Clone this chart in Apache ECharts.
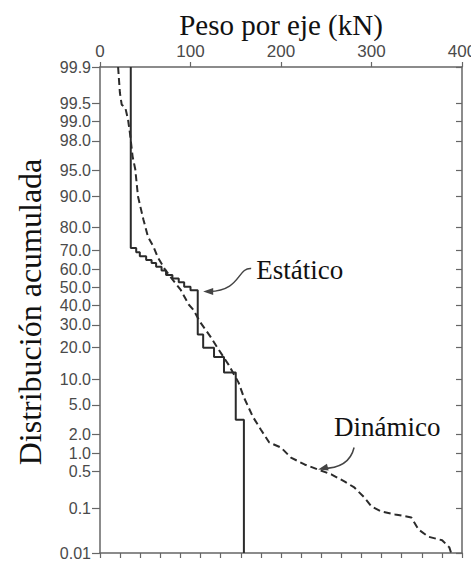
<!DOCTYPE html>
<html>
<head>
<meta charset="utf-8">
<script src="https://cdn.jsdelivr.net/npm/echarts@6/dist/echarts.min.js"></script>
<style>
  html, body { margin: 0; padding: 0; background: #fff; }
  #chart { width: 471px; height: 563px; }
</style>
</head>
<body>
<div id="chart"></div>
<script>
// Distribución acumulada del peso por eje (escala de probabilidad normal)

// etiquetas del eje de probabilidad (%)
const probLabels = ['99.9', '99.5', '99.0', '98.0', '95.0', '90.0', '80.0', '70.0', '60.0', '50.0',
  '40.0', '30.0', '20.0', '10.0', '5.0', '2.0', '1.0', '0.5', '0.1', '0.01'];

// Estático: escalones (kN, %)
const staticLoads = [34, 40, 44, 51, 57, 62, 68, 73, 80, 87, 93, 100, 108, 114, 126, 137, 150, 159, 159];
const staticPct = [99.9, 71, 69, 67, 65, 63.5, 61.5, 59.5, 57, 55, 53, 50.5, 48.5, 25.5, 20, 16.5, 11.7, 3.2, 0.01];

// Dinámico (kN, %)
const dynLoads = [20, 22, 24, 28, 31, 33, 36, 39, 41, 42, 48, 53, 59, 64, 72, 80, 89, 98, 103, 111,
  122, 131, 142, 153, 159, 169, 178, 187, 200, 211, 226, 241, 256, 270, 281, 292, 300, 311, 326, 344,
  352, 363, 378, 386, 388];
const dynPct = [99.9, 99.68, 99.48, 99.41, 99.07, 98.5, 96.7, 95.1, 91.9, 89.9, 82.9, 76.2, 71.7, 66.3, 59.9, 54.5, 48.9, 40.6, 37.9, 31.2,
  24.6, 19.3, 14.0, 9.2, 6.2, 3.5, 2.3, 1.5, 1.25, 0.86, 0.66, 0.54, 0.44, 0.33, 0.255, 0.164, 0.108, 0.085, 0.074, 0.064,
  0.035, 0.024, 0.020, 0.0136, 0.01];

// inversa de la normal (Acklam) -> posicion en el eje
function probit(p) {
  const a = [-3.969683028665376e+01, 2.209460984245205e+02, -2.759285104469687e+02, 1.383577518672690e+02, -3.066479806614716e+01, 2.506628277459239e+00];
  const b = [-5.447609879822406e+01, 1.615858368580409e+02, -1.556989798598866e+02, 6.680131188771972e+01, -1.328068155288572e+01];
  const c = [-7.784894002430293e-03, -3.223964580411365e-01, -2.400758277161838e+00, -2.549671010139230e+00, 4.374664141464968e+00, 2.938163982698783e+00];
  const d = [7.784695709041462e-03, 3.224671290700398e-01, 2.445134137142996e+00, 3.754408661907416e+00];
  const lo = 0.02425, hi = 1 - lo;
  let q, r;
  if (p < lo) {
    q = Math.sqrt(-2 * Math.log(p));
    return (((((c[0] * q + c[1]) * q + c[2]) * q + c[3]) * q + c[4]) * q + c[5]) / ((((d[0] * q + d[1]) * q + d[2]) * q + d[3]) * q + 1);
  }
  if (p > hi) {
    q = Math.sqrt(-2 * Math.log(1 - p));
    return -(((((c[0] * q + c[1]) * q + c[2]) * q + c[3]) * q + c[4]) * q + c[5]) / ((((d[0] * q + d[1]) * q + d[2]) * q + d[3]) * q + 1);
  }
  q = p - 0.5; r = q * q;
  return (((((a[0] * r + a[1]) * r + a[2]) * r + a[3]) * r + a[4]) * r + a[5]) * q / (((((b[0] * r + b[1]) * r + b[2]) * r + b[3]) * r + b[4]) * r + 1);
}

const z = pct => probit(pct / 100);
const probTicks = probLabels.map(s => z(parseFloat(s)));
const yMin = z(0.01), yMax = z(99.9);

function probFormatter(v) {
  let best = 0;
  probTicks.forEach((t, i) => { if (Math.abs(t - v) < Math.abs(probTicks[best] - v)) best = i; });
  return probLabels[best];
}

const AXIS = '#666';
const LABEL = '#4a4a4a';
const SERIF = '"Liberation Serif"';
const SANS = 'Liberation Sans';

const chart = echarts.init(document.getElementById('chart'), null, { renderer: 'svg' });

chart.setOption({
  backgroundColor: '#fff',
  animation: false,
  grid: { left: 100, right: 9, top: 67, bottom: 10, containLabel: false, outerBoundsMode: 'none' },
  xAxis: [
    {
      type: 'value', position: 'top', min: 0, max: 400, interval: 100,
      axisLine: { show: true, onZero: false, lineStyle: { color: AXIS, width: 1.5 } },
      axisTick: { show: true, inside: false, length: 5, lineStyle: { color: AXIS, width: 1.2 } },
      axisLabel: { color: LABEL, fontFamily: SANS, fontSize: 17, margin: 7 },
      splitLine: { show: false }
    },
    {
      // eje inferior en kips (1 kip = 4.448 kN), marcas cada 5 kips
      type: 'value', position: 'bottom', min: 0, max: 90, interval: 5,
      axisLine: { show: true, onZero: false, lineStyle: { color: AXIS, width: 1.5 } },
      axisTick: { show: true, inside: false, length: 5, lineStyle: { color: AXIS, width: 1.2 } },
      axisLabel: { show: false },
      splitLine: { show: false }
    }
  ],
  yAxis: [
    {
      type: 'value', position: 'left', min: yMin, max: yMax,
      axisLine: { show: true, onZero: false, lineStyle: { color: AXIS, width: 1.5 } },
      axisTick: { show: true, inside: false, length: 8, customValues: probTicks, lineStyle: { color: AXIS, width: 1.2 } },
      axisLabel: { color: LABEL, fontFamily: SANS, fontSize: 16, margin: 9, customValues: probTicks, formatter: probFormatter },
      splitLine: { show: false }
    },
    {
      type: 'value', position: 'right', min: yMin, max: yMax,
      axisLine: { show: true, onZero: false, lineStyle: { color: AXIS, width: 1.5 } },
      axisTick: { show: true, inside: true, length: 6, customValues: probTicks, lineStyle: { color: AXIS, width: 1.2 } },
      axisLabel: { show: false, customValues: probTicks },
      splitLine: { show: false }
    }
  ],
  series: [
    {
      name: 'Estático', type: 'line', xAxisIndex: 0, yAxisIndex: 0,
      step: 'start', showSymbol: false, silent: true,
      data: staticLoads.map((x, i) => [x, z(staticPct[i])]),
      lineStyle: { color: '#2b2b2b', width: 2 }
    },
    {
      name: 'Dinámico', type: 'line', xAxisIndex: 0, yAxisIndex: 0,
      showSymbol: false, silent: true,
      data: dynLoads.map((x, i) => [x, z(dynPct[i])]),
      lineStyle: { color: '#2b2b2b', width: 2, type: [7, 4] }
    }
  ]
});

// flechas y rotulos, anclados a puntos de datos
function arrowHead(tip, from, len, half) {
  const dx = tip[0] - from[0], dy = tip[1] - from[1];
  const l = Math.hypot(dx, dy), ux = dx / l, uy = dy / l;
  const bx = tip[0] - ux * len, by = tip[1] - uy * len;
  return [tip, [bx - uy * half, by + ux * half], [bx + uy * half, by - ux * half]];
}

const toPx = v => chart.convertToPixel({ xAxisIndex: 0, yAxisIndex: 0 }, [v[0], z(v[1])]);
const tE = toPx([114, 47.8]);
const tD = toPx([241, 0.54]);
// esquinas del area de trazado
const topLeft = chart.convertToPixel({ xAxisIndex: 0, yAxisIndex: 0 }, [0, yMax]);
const botRight = chart.convertToPixel({ xAxisIndex: 0, yAxisIndex: 0 }, [400, yMin]);
const ARROW = '#444';

chart.setOption({
  graphic: [
    {
      // titulo del eje superior
      type: 'text', silent: true,
      x: (topLeft[0] + botRight[0]) / 2, y: topLeft[1] - 42,
      style: { text: 'Peso por eje (kN)', font: '29px ' + SERIF, fill: '#111', align: 'center', verticalAlign: 'middle' }
    },
    {
      // titulo del eje vertical
      type: 'text', silent: true, rotation: Math.PI / 2,
      x: topLeft[0] - 70, y: (topLeft[1] + botRight[1]) / 2 + 2,
      style: { text: 'Distribución acumulada', font: '32px ' + SERIF, fill: '#111', align: 'center', verticalAlign: 'middle' }
    },
    {
      type: 'bezierCurve', silent: true,
      shape: { x1: tE[0] + 6, y1: tE[1], cpx1: tE[0] + 38, cpy1: tE[1] - 1, cpx2: tE[0] + 34, cpy2: tE[1] - 24, x2: tE[0] + 48, y2: tE[1] - 23 },
      style: { stroke: ARROW, lineWidth: 1.5, fill: null }
    },
    {
      type: 'polygon', silent: true,
      shape: { points: arrowHead(tE, [tE[0] + 10, tE[1]], 10, 3.5) },
      style: { fill: ARROW }
    },
    {
      type: 'text', silent: true, x: tE[0] + 53, y: tE[1] - 21,
      style: { text: 'Estático', font: '27px ' + SERIF, fill: '#111', verticalAlign: 'middle' }
    },
    {
      type: 'bezierCurve', silent: true,
      shape: { x1: tD[0] + 36, y1: tD[1] - 22, cpx1: tD[0] + 31, cpy1: tD[1] - 1, x2: tD[0] + 4, y2: tD[1] - 1 },
      style: { stroke: ARROW, lineWidth: 1.5, fill: null }
    },
    {
      type: 'polygon', silent: true,
      shape: { points: arrowHead(tD, [tD[0] + 12, tD[1] - 3], 10, 3.5) },
      style: { fill: ARROW }
    },
    {
      type: 'text', silent: true, x: tD[0] + 16, y: tD[1] - 42,
      style: { text: 'Dinámico', font: '27px ' + SERIF, fill: '#111', verticalAlign: 'middle' }
    }
  ]
});
</script>
</body>
</html>
